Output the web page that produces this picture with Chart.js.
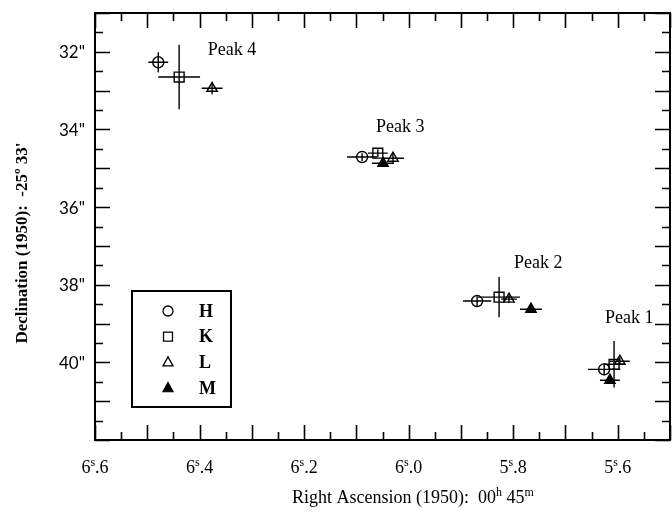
<!DOCTYPE html>
<html>
<head>
<meta charset="utf-8">
<script src="https://cdn.jsdelivr.net/npm/chart.js@4.4.0/dist/chart.umd.min.js"></script>
<style>
  html, body { margin: 0; padding: 0; background: #fff; }
  canvas { display: block; }
</style>
</head>
<body>
<canvas id="skyCanvas" width="672" height="512"></canvas>
<script>
// ------DATA--------
const peaks = ["Peak 1", "Peak 2", "Peak 3", "Peak 4"];
const bands = ["H", "K", "L", "M"];

// RA seconds (00h 45m) and Dec arcsec (-25 33') for each peak, with errors
const hRA = [5.626, 5.869, 6.089, 6.479];
const hDec = [40.18, 38.42, 34.71, 32.27];
const hRAErr = [0.031, 0.027, 0.029, 0.019];
const hDecErr = [0.15, 0.12, 0.10, 0.26];

const kRA = [5.607, 5.827, 6.059, 6.439];
const kDec = [40.05, 38.32, 34.61, 32.65];
const kRAErr = [0.019, 0.040, 0.019, 0.040];
const kDecErr = [0.60, 0.52, 0.10, 0.83];

const lRA = [5.596, 5.808, 6.030, 6.376];
const lDec = [39.97, 38.37, 34.74, 32.94];
const lRAErr = [0.019, 0.015, 0.021, 0.020];
const lDecErr = [0.10, 0.10, 0.12, 0.15];

const mRA = [5.615, 5.766, 6.049, null];
const mDec = [40.46, 38.63, 34.87, null];
const mRAErr = [0.019, 0.021, 0.021, null];
const mDecErr = [0.10, 0.10, 0.08, null];

// where the peak names sit
const peakLabelRA = [5.578, 5.752, 6.016, 6.338];
const peakLabelDec = [38.86, 37.44, 33.94, 31.95];

// tick labels
const xTickValues = [6.6, 6.4, 6.2, 6.0, 5.8, 5.6];
const yTickValues = [32, 34, 36, 38, 40];

function toPoints(ra, dec, raErr, decErr) {
    const pts = [];
    for (let i = 0; i < ra.length; i++) {
        if (ra[i] === null) continue;
        pts.push({ x: ra[i], y: dec[i], xErr: raErr[i], yErr: decErr[i] });
    }
    return pts;
}

const SERIF = "'Liberation Serif', 'DejaVu Serif', serif";

// draw text made of normal + superscript parts
function drawParts(ctx, parts, x, y, size, weight, align) {
    const supSize = Math.round(size * 0.68);
    let total = 0;
    parts.forEach(p => {
        ctx.font = weight + " " + (p.sup ? supSize : size) + "px " + SERIF;
        p.w = ctx.measureText(p.t).width;
        total += p.w;
    });
    let cx = align === "center" ? x - total / 2 : x;
    ctx.textAlign = "left";
    ctx.textBaseline = "alphabetic";
    parts.forEach(p => {
        ctx.font = weight + " " + (p.sup ? supSize : size) + "px " + SERIF;
        ctx.fillText(p.t, cx, p.sup ? y - size * 0.38 : y);
        cx += p.w;
    });
}

function marker(ctx, style, x, y, r, filled) {
    ctx.beginPath();
    if (style === "circle") {
        ctx.arc(x, y, r, 0, Math.PI * 2);
    } else if (style === "rect") {
        ctx.rect(x - r, y - r, 2 * r, 2 * r);
    } else {
        ctx.moveTo(x, y - r * 1.1);
        ctx.lineTo(x + r, y + r * 0.7);
        ctx.lineTo(x - r, y + r * 0.7);
        ctx.closePath();
    }
    if (filled) ctx.fill();
    ctx.stroke();
}

const framePlugin = {
    id: "frameAndErrors",
    afterDatasetsDraw(chart) {
        const ctx = chart.ctx;
        const xs = chart.scales.x, ys = chart.scales.y;
        ctx.save();
        ctx.strokeStyle = "#000";
        ctx.lineWidth = 1.4;
        chart.data.datasets.forEach(ds => {
            ds.data.forEach(p => {
                const px = xs.getPixelForValue(p.x), py = ys.getPixelForValue(p.y);
                const x1 = xs.getPixelForValue(p.x - p.xErr), x2 = xs.getPixelForValue(p.x + p.xErr);
                const y1 = ys.getPixelForValue(p.y - p.yErr), y2 = ys.getPixelForValue(p.y + p.yErr);
                ctx.beginPath();
                ctx.moveTo(x1, py); ctx.lineTo(x2, py);
                ctx.moveTo(px, y1); ctx.lineTo(px, y2);
                ctx.stroke();
            });
        });
        ctx.restore();
    },
    afterDraw(chart) {
        const ctx = chart.ctx;
        const a = chart.chartArea;
        const xs = chart.scales.x, ys = chart.scales.y;
        ctx.save();
        ctx.strokeStyle = "#000";
        ctx.fillStyle = "#000";

        // frame
        ctx.lineWidth = 2;
        ctx.strokeRect(a.left, a.top, a.right - a.left, a.bottom - a.top);

        // inward ticks, x every 0.05 (long at 0.1)
        ctx.lineWidth = 1.6;
        ctx.beginPath();
        for (let i = 0; i <= 22; i++) {
            const v = 5.5 + i * 0.05;
            const px = Math.round(xs.getPixelForValue(v)) + 0.5;
            const len = i % 2 === 0 ? 15 : 8;
            ctx.moveTo(px, a.bottom); ctx.lineTo(px, a.bottom - len);
            ctx.moveTo(px, a.top); ctx.lineTo(px, a.top + len);
        }
        // y every 0.5 (long at whole arcsec)
        for (let i = 0; i <= 22; i++) {
            const v = 31 + i * 0.5;
            const py = Math.round(ys.getPixelForValue(v)) + 0.5;
            const len = i % 2 === 0 ? 15 : 8;
            ctx.moveTo(a.left, py); ctx.lineTo(a.left + len, py);
            ctx.moveTo(a.right, py); ctx.lineTo(a.right - len, py);
        }
        ctx.stroke();

        // y tick labels
        ctx.font = "17px Lato, 'DejaVu Sans', sans-serif";
        ctx.textAlign = "right";
        ctx.textBaseline = "middle";
        yTickValues.forEach(v => {
            ctx.fillText(v + "\"", 85, ys.getPixelForValue(v) + 1);
        });

        // x tick labels
        xTickValues.forEach(v => {
            const s = v.toFixed(1).split(".");
            drawParts(ctx, [{ t: s[0] }, { t: "s", sup: true }, { t: "." + s[1] }],
                xs.getPixelForValue(v), 473, 18, "normal", "center");
        });

        // axis titles
        drawParts(ctx, [{ t: "Right Ascension (1950):  00" }, { t: "h", sup: true },
            { t: " 45" }, { t: "m", sup: true }], 413, 503, 18, "normal", "center");

        ctx.save();
        ctx.translate(23, 243);
        ctx.rotate(-Math.PI / 2);
        ctx.font = "bold 17px " + SERIF;
        ctx.textAlign = "center";
        ctx.textBaseline = "middle";
        ctx.fillText("Declination (1950):  -25º 33'", 0, 0);
        ctx.restore();

        // peak names
        ctx.font = "18px " + SERIF;
        ctx.textAlign = "center";
        ctx.textBaseline = "middle";
        peaks.forEach((name, i) => {
            ctx.fillText(name, xs.getPixelForValue(peakLabelRA[i]), ys.getPixelForValue(peakLabelDec[i]));
        });

        // legend box
        ctx.lineWidth = 2;
        ctx.strokeRect(132, 291, 99, 116);
        const styles = ["circle", "rect", "triangle", "triangle"];
        const filled = [false, false, false, true];
        ctx.lineWidth = 1.3;
        ctx.font = "bold 18px " + SERIF;
        ctx.textAlign = "left";
        bands.forEach((b, i) => {
            const yy = 311 + i * 25.7;
            marker(ctx, styles[i], 168, yy, i === 1 ? 4.5 : 5, filled[i]);
            ctx.fillText(b, 199, yy + 1);
        });
        ctx.restore();
    }
};

const skyCanvas = document.getElementById("skyCanvas");

const skyChart = new Chart(skyCanvas, {
    type: "scatter",
    data: {
        datasets: [
            { label: "H", data: toPoints(hRA, hDec, hRAErr, hDecErr), pointStyle: "circle", pointRadius: 5.5,
              borderColor: "#000", backgroundColor: "rgba(0,0,0,0)", borderWidth: 1.4 },
            { label: "K", data: toPoints(kRA, kDec, kRAErr, kDecErr), pointStyle: "rect", pointRadius: 7,
              borderColor: "#000", backgroundColor: "rgba(0,0,0,0)", borderWidth: 1.4 },
            { label: "L", data: toPoints(lRA, lDec, lRAErr, lDecErr), pointStyle: "triangle", pointRadius: 6,
              borderColor: "#000", backgroundColor: "rgba(0,0,0,0)", borderWidth: 1.4 },
            { label: "M", data: toPoints(mRA, mDec, mRAErr, mDecErr), pointStyle: "triangle", pointRadius: 6,
              borderColor: "#000", backgroundColor: "#000", borderWidth: 1.4 }
        ]
    },
    options: {
        responsive: false,
        animation: false,
        events: [],
        layout: { autoPadding: false, padding: { left: 95, right: 2, top: 13, bottom: 72 } },
        scales: {
            x: { type: "linear", min: 5.5, max: 6.6, reverse: true, display: false },
            y: { type: "linear", min: 31, max: 42, reverse: true, display: false }
        },
        plugins: { legend: { display: false }, tooltip: { enabled: false } }
    },
    plugins: [framePlugin]
});
</script>
</body>
</html>
